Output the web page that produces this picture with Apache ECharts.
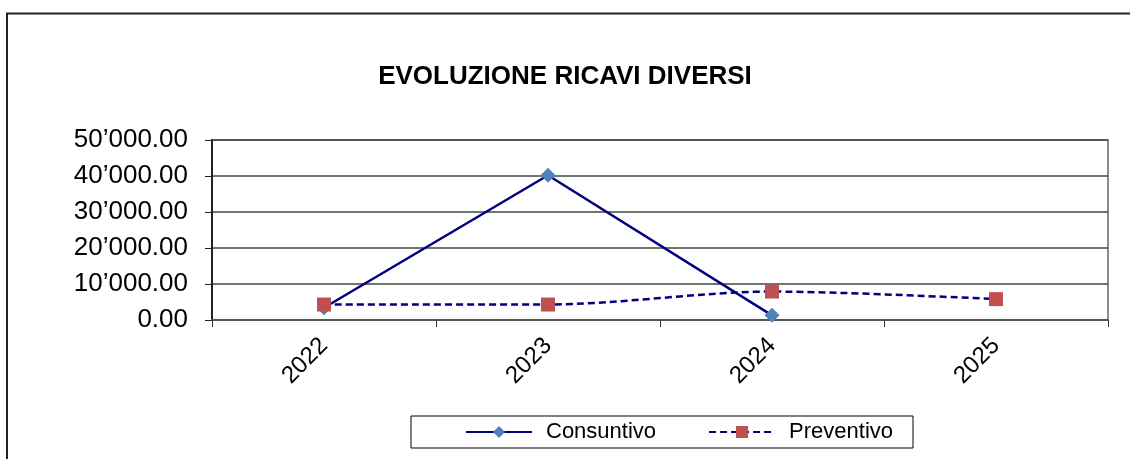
<!DOCTYPE html>
<html>
<head>
<meta charset="utf-8">
<script src="https://cdn.jsdelivr.net/npm/echarts@6/dist/echarts.min.js"></script>
<style>
  html, body { margin: 0; padding: 0; background: #fff; }
  #chart { width: 1130px; height: 459px; }
</style>
</head>
<body>
<div id="chart"></div>
<script>
const years = ["2022", "2023", "2024", "2025"];
const consuntivo = [3400, 40200, 1300, null];
const preventivo = [4300, 4300, 7900, 5800];
const yTicks = [0, 10000, 20000, 30000, 40000, 50000];

const font = "Liberation Sans, Arial, sans-serif";
const navy = "#000080";

function fmt(v) {
  const parts = v.toFixed(2).split(".");
  return parts[0].replace(/\B(?=(\d{3})+(?!\d))/g, "\u2019") + "." + parts[1];
}

const chart = echarts.init(document.getElementById("chart"), null, { renderer: "canvas" });

chart.setOption({
  animation: false,
  textStyle: { fontFamily: font },
  title: {
    text: "EVOLUZIONE RICAVI DIVERSI",
    left: "center",
    top: 59,
    textStyle: { fontFamily: font, fontSize: 26, fontWeight: "bold", color: "#000" },
  },
  graphic: [
    {
      type: "polyline",
      shape: { points: [[7, 470], [7, 13.5], [1140, 13.5]] },
      style: { stroke: "#222", lineWidth: 2, fill: null },
      silent: true,
    },
  ],
  legend: {
    left: 411,
    top: 416,
    padding: [5, 20, 5, 54],
    borderColor: "#000",
    borderWidth: 1,
    itemWidth: 66,
    itemHeight: 15,
    itemGap: 52,
    textStyle: { fontFamily: font, fontSize: 22, color: "#000", padding: [0, 0, 0, 9] },
    data: ["Consuntivo", "Preventivo"],
  },
  grid: {
    left: 212,
    right: 22,
    top: 140,
    bottom: 139,
    show: true,
    borderColor: "#8c8c8c",
    borderWidth: 2,
  },
  xAxis: {
    type: "category",
    data: years,
    boundaryGap: true,
    axisLine: { lineStyle: { color: "#555", width: 2 } },
    axisTick: { show: true, length: 7, lineStyle: { color: "#333" } },
    axisLabel: {
      rotate: 45,
      margin: 22,
      fontSize: 24,
      color: "#000",
      fontFamily: font,
    },
  },
  yAxis: {
    type: "value",
    min: yTicks[0],
    max: yTicks[yTicks.length - 1],
    interval: yTicks[1] - yTicks[0],
    axisLine: { show: true, lineStyle: { color: "#222", width: 2 } },
    axisTick: { show: true, length: 7, lineStyle: { color: "#222" } },
    splitLine: { lineStyle: { color: "#444", width: 1.5 } },
    axisLabel: {
      margin: 24,
      fontSize: 26,
      color: "#000",
      fontFamily: font,
      formatter: fmt,
    },
  },
  series: [
    {
      name: "Consuntivo",
      type: "line",
      data: consuntivo,
      symbol: "diamond",
      symbolSize: 15,
      showAllSymbol: true,
      lineStyle: { color: navy, width: 2.5 },
      itemStyle: { color: "#4F81BD" },
      z: 2,
    },
    {
      name: "Preventivo",
      type: "line",
      data: preventivo,
      smooth: 0.3,
      symbol: "rect",
      symbolSize: 14,
      showAllSymbol: true,
      lineStyle: { color: navy, width: 2.5, type: [7, 4] },
      itemStyle: { color: "#C0504D" },
      z: 3,
    },
  ],
});
</script>
</body>
</html>
